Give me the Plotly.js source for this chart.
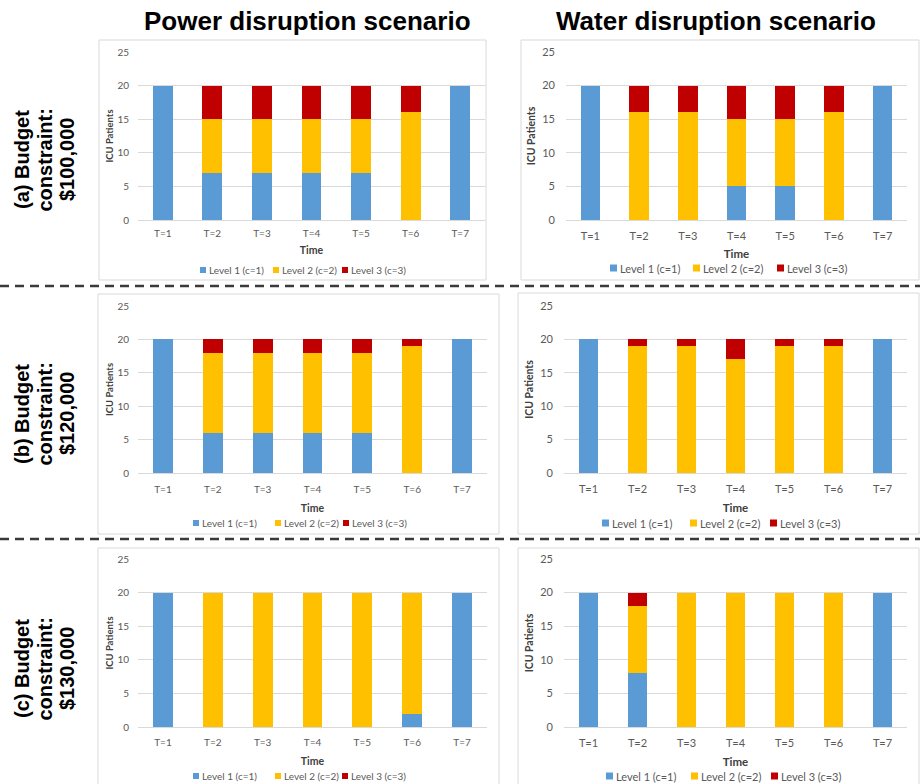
<!DOCTYPE html>
<html><head><meta charset="utf-8">
<script src="https://cdn.plot.ly/plotly-3.0.1.min.js"></script>
<style>html,body{margin:0;padding:0;background:#fff}#chart{width:920px;height:784px}</style>
</head><body><div id="chart"></div>
<script>
// ---- data ----
const times = ['T=1','T=2','T=3','T=4','T=5','T=6','T=7'];
const levelNames = ['Level 1 (c=1)','Level 2 (c=2)','Level 3 (c=3)'];
const levelColors = ['#5B9BD5','#FFC000','#C00000'];
const yTicks = [0,5,10,15,20,25];

const powerA_L1 = [20,7,7,7,7,0,20];
const powerA_L2 = [0,8,8,8,8,16,0];
const powerA_L3 = [0,5,5,5,5,4,0];
const waterA_L1 = [20,0,0,5,5,0,20];
const waterA_L2 = [0,16,16,10,10,16,0];
const waterA_L3 = [0,4,4,5,5,4,0];

const powerB_L1 = [20,6,6,6,6,0,20];
const powerB_L2 = [0,12,12,12,12,19,0];
const powerB_L3 = [0,2,2,2,2,1,0];
const waterB_L1 = [20,0,0,0,0,0,20];
const waterB_L2 = [0,19,19,17,19,19,0];
const waterB_L3 = [0,1,1,3,1,1,0];

const powerC_L1 = [20,0,0,0,0,2,20];
const powerC_L2 = [0,20,20,20,20,18,0];
const powerC_L3 = [0,0,0,0,0,0,0];
const waterC_L1 = [20,8,0,0,0,0,20];
const waterC_L2 = [0,10,20,20,20,20,0];
const waterC_L3 = [0,2,0,0,0,0,0];

const colTitles = ['Power disruption scenario','Water disruption scenario'];
const rowLabels = [
  ['(a) Budget','constraint:','$100,000'],
  ['(b) Budget','constraint:','$120,000'],
  ['(c) Budget','constraint:','$130,000']
];
const yTitle = 'ICU Patients';
const xTitle = 'Time';

// ---- layout geometry (pixels) ----
const W = 920, H = 784;
const fx = p => p / W, fy = p => 1 - p / H;
const panels = [
  {series:[powerA_L1,powerA_L2,powerA_L3], x:[138,485], y:[52,220], box:[99,40,486,280], small:true,  xStand:6, tStand:8,  legY:270, legSq:[200,273,342]},
  {series:[waterA_L1,waterA_L2,waterA_L3], x:[566,907], y:[52,220], box:[521,40,919,280], small:false, xStand:8, tStand:8,  legY:268, legSq:[610,693,777]},
  {series:[powerB_L1,powerB_L2,powerB_L3], x:[138,487], y:[306,473], box:[98,294,499,534], small:true,  xStand:9, tStand:10, legY:523, legSq:[193,275,343]},
  {series:[waterB_L1,waterB_L2,waterB_L3], x:[564,907], y:[306,473], box:[518,293,919,534], small:false, xStand:8, tStand:9,  legY:523, legSq:[602,690,770]},
  {series:[powerC_L1,powerC_L2,powerC_L3], x:[138,487], y:[559,727], box:[98,548,499,800], small:true,  xStand:8, tStand:10, legY:776, legSq:[193,275,342]},
  {series:[waterC_L1,waterC_L2,waterC_L3], x:[564,907], y:[559,727], box:[518,548,919,800], small:false, xStand:8, tStand:9,  legY:776, legSq:[606,691,771]}
];

const traces = [];
const layout = {
  width: W, height: H,
  margin: {l:0, r:0, t:0, b:0},
  paper_bgcolor: '#ffffff', plot_bgcolor: '#ffffff',
  barmode: 'stack', bargap: 0.6,
  showlegend: false,
  font: {family: 'Lato, "Open Sans", sans-serif', color: '#595959'},
  shapes: [], annotations: []
};

panels.forEach((p, i) => {
  const n = i + 1;
  const sfx = n === 1 ? '' : String(n);
  const tickSize = p.small ? 10 : 11;
  p.series.forEach((vals, k) => {
    traces.push({
      type: 'bar', x: times, y: vals, name: levelNames[k],
      xaxis: 'x' + sfx, yaxis: 'y' + sfx,
      marker: {color: levelColors[k], line: {width: 0}},
      hoverinfo: 'x+y+name'
    });
  });
  layout['xaxis' + sfx] = {
    domain: [fx(p.x[0]), fx(p.x[1])], anchor: 'y' + sfx,
    type: 'category', showgrid: false, zeroline: false, showline: false,
    ticks: '', ticklabelstandoff: p.xStand,
    tickfont: {size: tickSize, color: '#595959'},
    title: {text: xTitle, standoff: p.tStand, font: {size: p.small ? 10.5 : 11.5, color: '#404040', weight: 'bold'}},
    fixedrange: true
  };
  layout['yaxis' + sfx] = {
    domain: [fy(p.y[1]), fy(p.y[0])], anchor: 'x' + sfx,
    range: [0, 25], tickvals: yTicks, ticktext: yTicks.map(String),
    showgrid: true, gridcolor: '#d9d9d9', gridwidth: 1,
    zeroline: true, zerolinecolor: '#d9d9d9', zerolinewidth: 1,
    showline: false, ticks: '', ticklabelstandoff: p.small ? 8 : 10,
    tickfont: {size: tickSize, color: '#595959'},
    title: {text: yTitle, standoff: p.small ? 2 : 4, font: {size: p.small ? 9.5 : 10.5, color: '#404040', weight: 'bold'}},
    fixedrange: true
  };
  // chart box
  layout.shapes.push({type:'rect', xref:'paper', yref:'paper',
    x0: fx(p.box[0]), x1: fx(p.box[2]), y0: fy(p.box[3]), y1: fy(p.box[1]),
    line: {color:'#d9d9d9', width:1}, fillcolor:'rgba(0,0,0,0)', layer:'below'});
  // legend
  const sq = p.small ? 6 : 7;
  levelNames.forEach((nm, k) => {
    const sx = p.legSq[k];
    layout.shapes.push({type:'rect', xref:'paper', yref:'paper',
      x0: fx(sx), x1: fx(sx + sq), y0: fy(p.legY + sq/2), y1: fy(p.legY - sq/2),
      line: {width:0}, fillcolor: levelColors[k]});
    layout.annotations.push({xref:'paper', yref:'paper', x: fx(sx + sq + 1), y: fy(p.legY),
      xanchor:'left', yanchor:'middle', showarrow:false, text: nm,
      font: {size: p.small ? 10 : 11, color:'#595959'}});
  });
});

// dashed separators
[286, 539].forEach(yp => {
  layout.shapes.push({type:'line', xref:'paper', yref:'paper', x0:0, x1:1, y0: fy(yp), y1: fy(yp),
    line: {color:'#3a3a3a', width:2.5, dash:'9px,6px'}});
});

// column titles
[[307, colTitles[0]], [716, colTitles[1]]].forEach(([xp, t]) => {
  layout.annotations.push({xref:'paper', yref:'paper', x: fx(xp), y: fy(21), xanchor:'center', yanchor:'middle',
    showarrow:false, text: t, font: {family:'"Liberation Sans", Arial, sans-serif', size:26, color:'#000', weight:'bold'}});
});

// row labels
const rowCenters = [160, 414, 669];
const lineX = [22, 44.5, 67];
rowLabels.forEach((lines, r) => {
  lines.forEach((ln, j) => {
    layout.annotations.push({xref:'paper', yref:'paper', x: fx(lineX[j]), y: fy(rowCenters[r]),
      xanchor:'center', yanchor:'middle', textangle:-90, showarrow:false, text: ln,
      font: {family:'"Liberation Sans", Arial, sans-serif', size:20, color:'#000', weight:'bold'}});
  });
});

Plotly.newPlot('chart', traces, layout, {staticPlot: true, displayModeBar: false});
</script>
</body></html>
